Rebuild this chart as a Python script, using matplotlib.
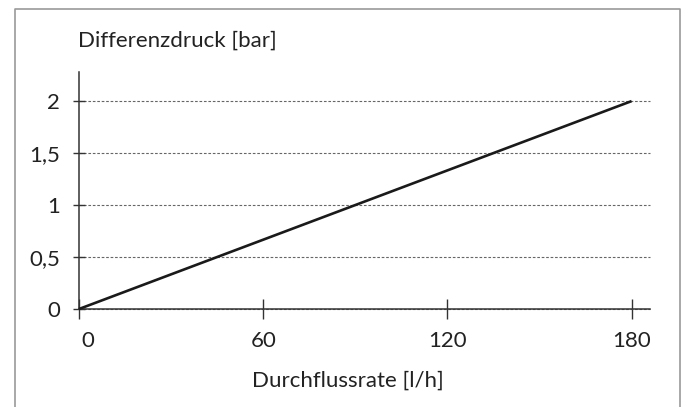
import matplotlib
matplotlib.use("Agg")
import matplotlib.pyplot as plt
from matplotlib.lines import Line2D
from matplotlib.transforms import ScaledTranslation

# Kennlinie: Differenzdruck ueber Durchflussrate
flow = [0, 180]          # l/h
pressure = [0, 2]        # bar

x_ticks = [0, 60, 120, 180]
x_labels = ["0", "60", "120", "180"]
y_ticks = [0, 0.5, 1, 1.5, 2]
y_labels = ["0", "0,5", "1", "1,5", "2"]

plt.rcParams["font.family"] = ["Lato", "DejaVu Sans"]
text_color = "#222222"
fs = 16

fig = plt.figure(figsize=(6.86, 4.07), dpi=100)
ax = fig.add_axes([79 / 686, 1 - 309 / 407, (650 - 79) / 686, (309 - 72) / 407])

ax.plot(flow, pressure, color="#1a1a1a", linewidth=1.9, solid_capstyle="butt",
        clip_on=False, zorder=3)

ax.set_xlim(0, 186)
ax.set_ylim(0, 2.28)

ax.set_xticks(x_ticks)
ax.set_xticklabels(x_labels)
ax.set_yticks(y_ticks)
ax.set_yticklabels(y_labels)

for side in ("top", "right"):
    ax.spines[side].set_visible(False)
for side in ("left", "bottom"):
    ax.spines[side].set_color("#333333")
    ax.spines[side].set_linewidth(1.1)

ax.tick_params(axis="x", direction="inout", length=14, width=1.0, color="#333333",
               labelsize=fs, labelcolor=text_color, pad=9)
ax.tick_params(axis="y", direction="inout", length=9, width=1.0, color="#333333",
               labelsize=fs, labelcolor=text_color, pad=9)

# "0" sits a bit right of the origin
lbl0 = ax.get_xticklabels()[0]
lbl0.set_transform(lbl0.get_transform() + ScaledTranslation(9 / 100, 0, fig.dpi_scale_trans))

ax.yaxis.grid(True, linestyle=(0, (2.4, 1.6)), color="#666666", linewidth=0.8)
ax.set_axisbelow(True)
for gl in ax.get_ygridlines():
    gl.set_clip_on(False)

fig.text(78 / 686, 1 - 47 / 407, "Differenzdruck [bar]", fontsize=fs,
         color=text_color, ha="left", va="baseline")
fig.text(348 / 686, 1 - 387 / 407, "Durchflussrate [l/h]", fontsize=fs,
         color=text_color, ha="center", va="baseline")

# grauer Rahmen (unten offen)
frame_x = [15 / 686, 15 / 686, 680 / 686, 680 / 686]
frame_y = [0, 1 - 9 / 407, 1 - 9 / 407, 0]
fig.add_artist(Line2D(frame_x, frame_y, color="#9a9a9a", linewidth=1.2,
                      transform=fig.transFigure))

fig.savefig("out.png", dpi=100)
